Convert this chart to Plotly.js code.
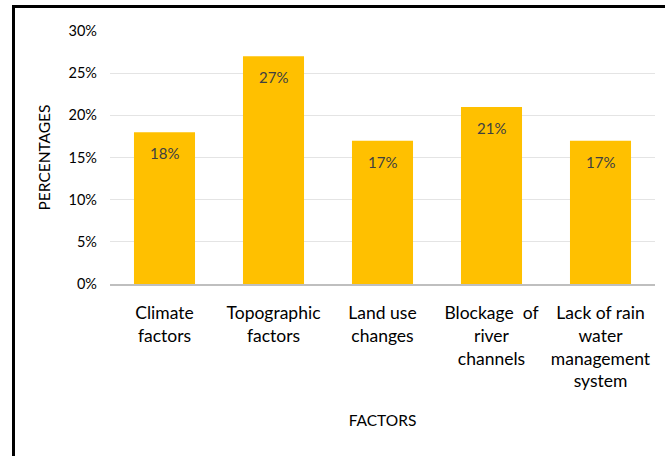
<!DOCTYPE html>
<html>
<head>
<meta charset="utf-8">
<script src="https://cdn.plot.ly/plotly-3.0.1.min.js"></script>
<style>
  body { margin: 0; padding: 0; background: #fff; }
  #wrap { position: relative; width: 665px; height: 456px; }
  #chart { width: 665px; height: 456px; }
  #frame { position: absolute; left: 12px; top: 5px; width: 650px; height: 448px;
           border-left: 3px solid #000; border-top: 3px solid #000;
           border-right: 1px solid #d0d0d0; border-bottom: 1px solid #d0d0d0;
           pointer-events: none; }
</style>
</head>
<body>
<div id="wrap">
  <div id="chart"></div>
  <div id="frame"></div>
</div>
<script>
const categories = ["Climate<br>factors", "Topographic<br>factors", "Land use<br>changes", "Blockage  of<br>river<br>channels", "Lack of rain<br>water<br>management<br>system"];
const values = [0.18, 0.27, 0.17, 0.21, 0.17];
const labels = ["18%", "27%", "17%", "21%", "17%"];
const yTicks = [0, 0.05, 0.10, 0.15, 0.20, 0.25, 0.30];
const yTickText = ["0%", "5%", "10%", "15%", "20%", "25%", "30%"];

const font = "Lato, 'Open Sans', sans-serif";

const trace = {
  type: "bar",
  x: categories,
  y: values,
  marker: { color: "#FFC000" },
  hoverinfo: "none"
};

const annotations = categories.map((c, i) => ({
  x: c, y: values[i], xref: "x", yref: "y",
  text: labels[i], showarrow: false,
  yanchor: "middle", yshift: -21,
  font: { family: font, size: 15, color: "#404040" }
}));

const layout = {
  width: 665, height: 456,
  margin: { l: 110, r: 10, t: 31, b: 172 },
  paper_bgcolor: "#fff", plot_bgcolor: "#fff",
  bargap: 0.44,
  showlegend: false,
  font: { family: font, color: "#000" },
  annotations: annotations,
  xaxis: {
    showline: true, linecolor: "#bfbfbf", linewidth: 2,
    showgrid: false, ticks: "", ticklabelstandoff: 12,
    tickfont: { family: font, size: 17.5, color: "#000" },
    title: { text: "FACTORS", font: { family: font, size: 15.5, color: "#000" }, standoff: 25 }
  },
  yaxis: {
    range: [0, 0.30],
    tickvals: yTicks, ticktext: yTickText,
    showgrid: true, gridcolor: "#e4e4e4", gridwidth: 1,
    zeroline: false, showline: false, ticks: "", ticklabelstandoff: 12,
    tickfont: { family: font, size: 14.5, color: "#000" },
    title: { text: "PERCENTAGES", font: { family: font, size: 15.5, color: "#000" }, standoff: 14 }
  }
};

Plotly.newPlot("chart", [trace], layout, { displayModeBar: false, staticPlot: true });
</script>
</body>
</html>
